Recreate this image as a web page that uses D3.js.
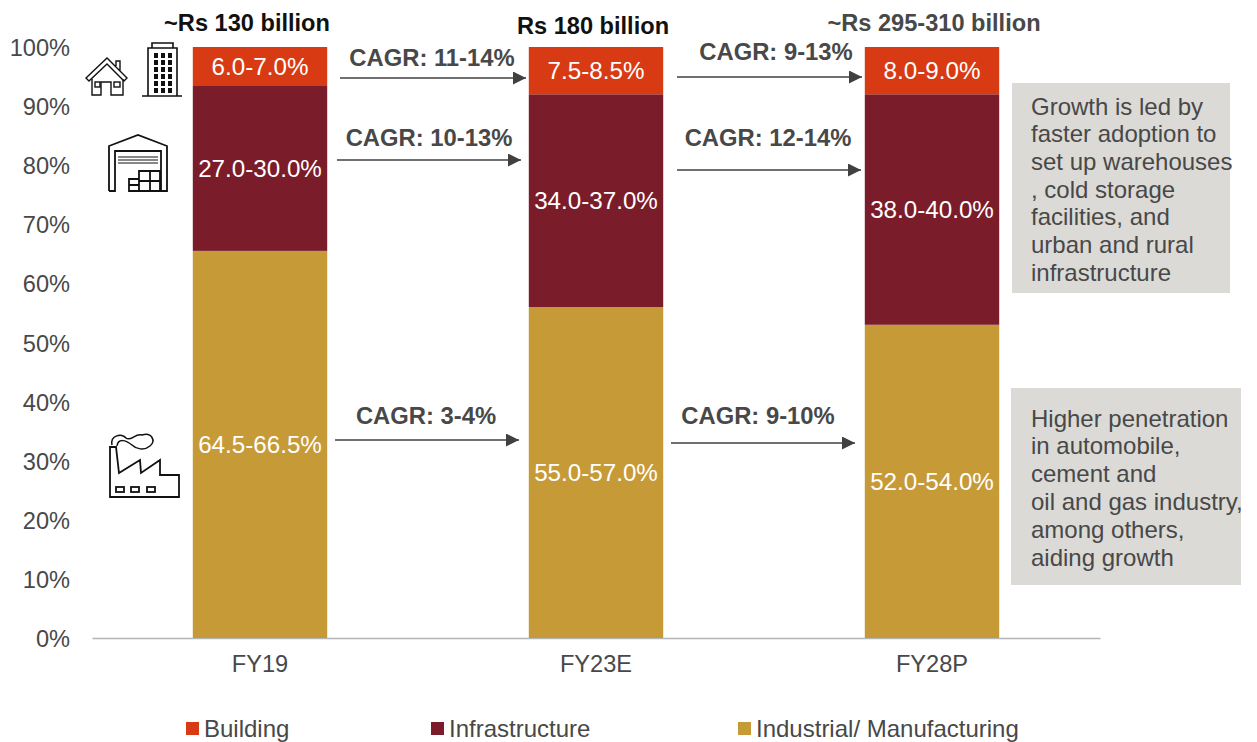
<!DOCTYPE html>
<html>
<head>
<meta charset="utf-8">
<script src="https://cdn.jsdelivr.net/npm/d3@7"></script>
<style>
body { margin: 0; background: #fff; overflow: hidden; }
text { font-family: "Liberation Sans", Arial, sans-serif; }
</style>
</head>
<body>
<svg id="chart" width="1257" height="742"></svg>
<script>
var years = ["FY19", "FY23E", "FY28P"]
var industrial = [65.5, 56, 53]
var infrastructure = [27.9, 36, 39]
var building = [6.6, 8, 8]
var industrialLabels = ["64.5-66.5%", "55.0-57.0%", "52.0-54.0%"]
var infrastructureLabels = ["27.0-30.0%", "34.0-37.0%", "38.0-40.0%"]
var buildingLabels = ["6.0-7.0%", "7.5-8.5%", "8.0-9.0%"]
var totals = ["~Rs 130 billion", "Rs 180 billion", "~Rs 295-310 billion"]
var seriesNames = ["Building", "Infrastructure", "Industrial/ Manufacturing"]
var seriesColors = ["#d83b13", "#7b1c2a", "#c79a38"]
var note1 = ["Growth is led by", "faster adoption to", "set up warehouses", ", cold storage", "facilities, and", "urban and rural", "infrastructure"]
var note2 = ["Higher penetration", "in automobile,", "cement and", "oil and gas industry,", "among others,", "aiding growth"]
var cagrLabels = ["CAGR: 11-14%", "CAGR: 9-13%", "CAGR: 10-13%", "CAGR: 12-14%", "CAGR: 3-4%", "CAGR: 9-10%"]

var svg = d3.select("#chart")
var textColor = "#484848"

var x = d3.scaleBand().domain(years).range([92, 1100]).paddingInner(0.6).paddingOuter(0.3)
var y = d3.scaleLinear().domain([0, 100]).range([638, 47])

// axes
var yAxis = svg.append("g").attr("transform", "translate(92,0)")
    .call(d3.axisLeft(y).tickValues(d3.range(0, 101, 10)).tickFormat(function (d) { return d + "%" }).tickSize(0).tickPadding(22))
yAxis.select(".domain").remove()
yAxis.selectAll("text").attr("font-size", 23.6).attr("fill", textColor).attr("y", 1)
    .style("font-family", "'Liberation Sans', Arial, sans-serif")

var xAxis = svg.append("g").attr("transform", "translate(0,638)")
    .call(d3.axisBottom(x).tickSize(0).tickPadding(17))
xAxis.select(".domain").attr("stroke", "#b5b5b5").attr("stroke-width", 1.3)
xAxis.selectAll("text").attr("font-size", 23.6).attr("fill", textColor)
    .style("font-family", "'Liberation Sans', Arial, sans-serif")

// stacked bars
var rows = years.map(function (yr, i) {
    return { year: yr, industrial: industrial[i], infrastructure: infrastructure[i], building: building[i] }
})
var keys = ["industrial", "infrastructure", "building"]
var keyColors = [seriesColors[2], seriesColors[1], seriesColors[0]]
var keyLabels = [industrialLabels, infrastructureLabels, buildingLabels]
var stacked = d3.stack().keys(keys)(rows)

stacked.forEach(function (layer, k) {
    svg.append("g").selectAll("rect").data(layer).enter().append("rect")
        .attr("x", function (d) { return x(d.data.year) })
        .attr("width", x.bandwidth())
        .attr("y", function (d) { return y(d[1]) })
        .attr("height", function (d) { return y(d[0]) - y(d[1]) })
        .attr("fill", keyColors[k])
    svg.append("g").selectAll("text").data(layer).enter().append("text")
        .attr("x", function (d) { return x(d.data.year) + x.bandwidth() / 2 })
        .attr("y", function (d) { return y((d[0] + d[1]) / 2) + 8.5 })
        .attr("text-anchor", "middle")
        .attr("font-size", 24.2)
        .attr("fill", "#fff")
        .text(function (d, i) { return keyLabels[k][i] })
})

// totals above bars
var totalX = [247, 593, 934]
svg.append("g").selectAll("text").data(totals).enter().append("text")
    .attr("x", function (d, i) { return totalX[i] })
    .attr("y", function (d, i) { return i == 1 ? 34 : 31 })
    .attr("text-anchor", "middle")
    .attr("font-size", 23.6)
    .attr("font-weight", "bold")
    .attr("fill", function (d, i) { return i == 2 ? "#484848" : "#111" })
    .text(function (d) { return d })

// cagr arrows
var arrowSpots = [
    { x1: 340, x2: 526, ay: 78, tx: 432, ty: 66 },
    { x1: 677, x2: 862, ay: 77, tx: 776, ty: 60 },
    { x1: 337, x2: 521, ay: 160, tx: 429, ty: 146 },
    { x1: 677, x2: 861, ay: 170, tx: 768, ty: 146 },
    { x1: 335, x2: 519, ay: 440, tx: 426, ty: 424 },
    { x1: 671, x2: 855, ay: 443, tx: 758, ty: 424 }
]
svg.append("defs").append("marker")
    .attr("id", "arrow").attr("viewBox", "0 0 10 10").attr("refX", 10).attr("refY", 5)
    .attr("markerUnits", "userSpaceOnUse").attr("markerWidth", 15).attr("markerHeight", 13).attr("orient", "auto")
    .append("path").attr("d", "M0,0L10,5L0,10Z").attr("fill", "#404040")

var arrows = svg.append("g")
arrows.selectAll("line").data(arrowSpots).enter().append("line")
    .attr("x1", function (d) { return d.x1 }).attr("x2", function (d) { return d.x2 })
    .attr("y1", function (d) { return d.ay }).attr("y2", function (d) { return d.ay })
    .attr("stroke", "#404040").attr("stroke-width", 1.6).attr("marker-end", "url(#arrow)")
arrows.selectAll("text").data(arrowSpots).enter().append("text")
    .attr("x", function (d) { return d.tx }).attr("y", function (d) { return d.ty })
    .attr("text-anchor", "middle").attr("font-size", 23.8).attr("font-weight", "bold").attr("fill", "#484848")
    .text(function (d, i) { return cagrLabels[i] })

// grey notes
function drawNote(left, top, w, h, lines, firstY, step) {
    svg.append("rect").attr("x", left).attr("y", top).attr("width", w).attr("height", h).attr("fill", "#dbdad6")
    svg.append("g").selectAll("text").data(lines).enter().append("text")
        .attr("x", 1031).attr("y", function (d, i) { return firstY + i * step })
        .attr("font-size", 24).attr("fill", textColor)
        .text(function (d) { return d })
}
drawNote(1012, 83, 218, 210, note1, 114.5, 27.7)
drawNote(1011, 388, 230, 197, note2, 426.5, 27.8)

// legend
var legendX = [186, 431, 738]
var legend = svg.append("g")
seriesNames.forEach(function (name, i) {
    legend.append("rect").attr("x", legendX[i]).attr("y", 722).attr("width", 13).attr("height", 13).attr("fill", seriesColors[i])
    legend.append("text").attr("x", legendX[i] + 18).attr("y", 737).attr("font-size", 24).attr("fill", textColor).text(name)
})

// icons
var icons = svg.append("g").attr("fill", "none").attr("stroke", "#111").attr("stroke-width", 1.4)

// house
var house = icons.append("g").attr("transform", "translate(86,58)")
house.append("path").attr("d", "M0,20L21,0L41,20L38,23L21,6L3,23Z M30,8V3H34V13")
house.append("path").attr("d", "M6,21V37H15V24H25V37H37V21")
house.append("rect").attr("x", 9).attr("y", 24).attr("width", 5).attr("height", 5)
house.append("rect").attr("x", 28).attr("y", 24).attr("width", 6).attr("height", 5)

// tower
var tower = icons.append("g").attr("transform", "translate(142,42)").attr("stroke-width", 1.6)
tower.append("path").attr("d", "M0,54H40M6,54V6H35V54M10,6V1H31V6")
var towerCols = [12, 19, 26]
var towerRows = [11, 18, 25, 32, 39, 46]
towerCols.forEach(function (cx) {
    towerRows.forEach(function (cy) {
        tower.append("rect").attr("x", cx).attr("y", cy).attr("width", 4).attr("height", 5).attr("fill", "#111").attr("stroke", "none")
    })
})

// warehouse
var shed = icons.append("g").attr("transform", "translate(108,135)").attr("stroke-width", 1.8)
shed.append("path").attr("d", "M1,56V11L30,0L59,11V56H53V16H7V56H1")
shed.append("path").attr("d", "M10,22H50M10,25H50M10,28H50").attr("stroke-width", 1.1)
shed.append("path").attr("d", "M31,36H52V56H21V44H31Z M31,44V56M42,36V56M31,46H52M21,50H31")

// factory
var factory = icons.append("g").attr("transform", "translate(108,432)").attr("stroke-width", 1.8)
factory.append("path").attr("d", "M2,65V15H8L11,41L32,28L33,41L52,28V43H71V65Z")
factory.append("path").attr("d", "M4,13C2,3 14,1 18,6C23,10 27,1 34,3C44,0 48,9 42,14C36,19 28,17 24,13C18,8 10,6 9,14").attr("stroke-width", 1.5)
var windows = [8, 23, 39]
windows.forEach(function (wx) {
    factory.append("rect").attr("x", wx).attr("y", 55).attr("width", 8).attr("height", 5)
})
</script>
</body>
</html>
